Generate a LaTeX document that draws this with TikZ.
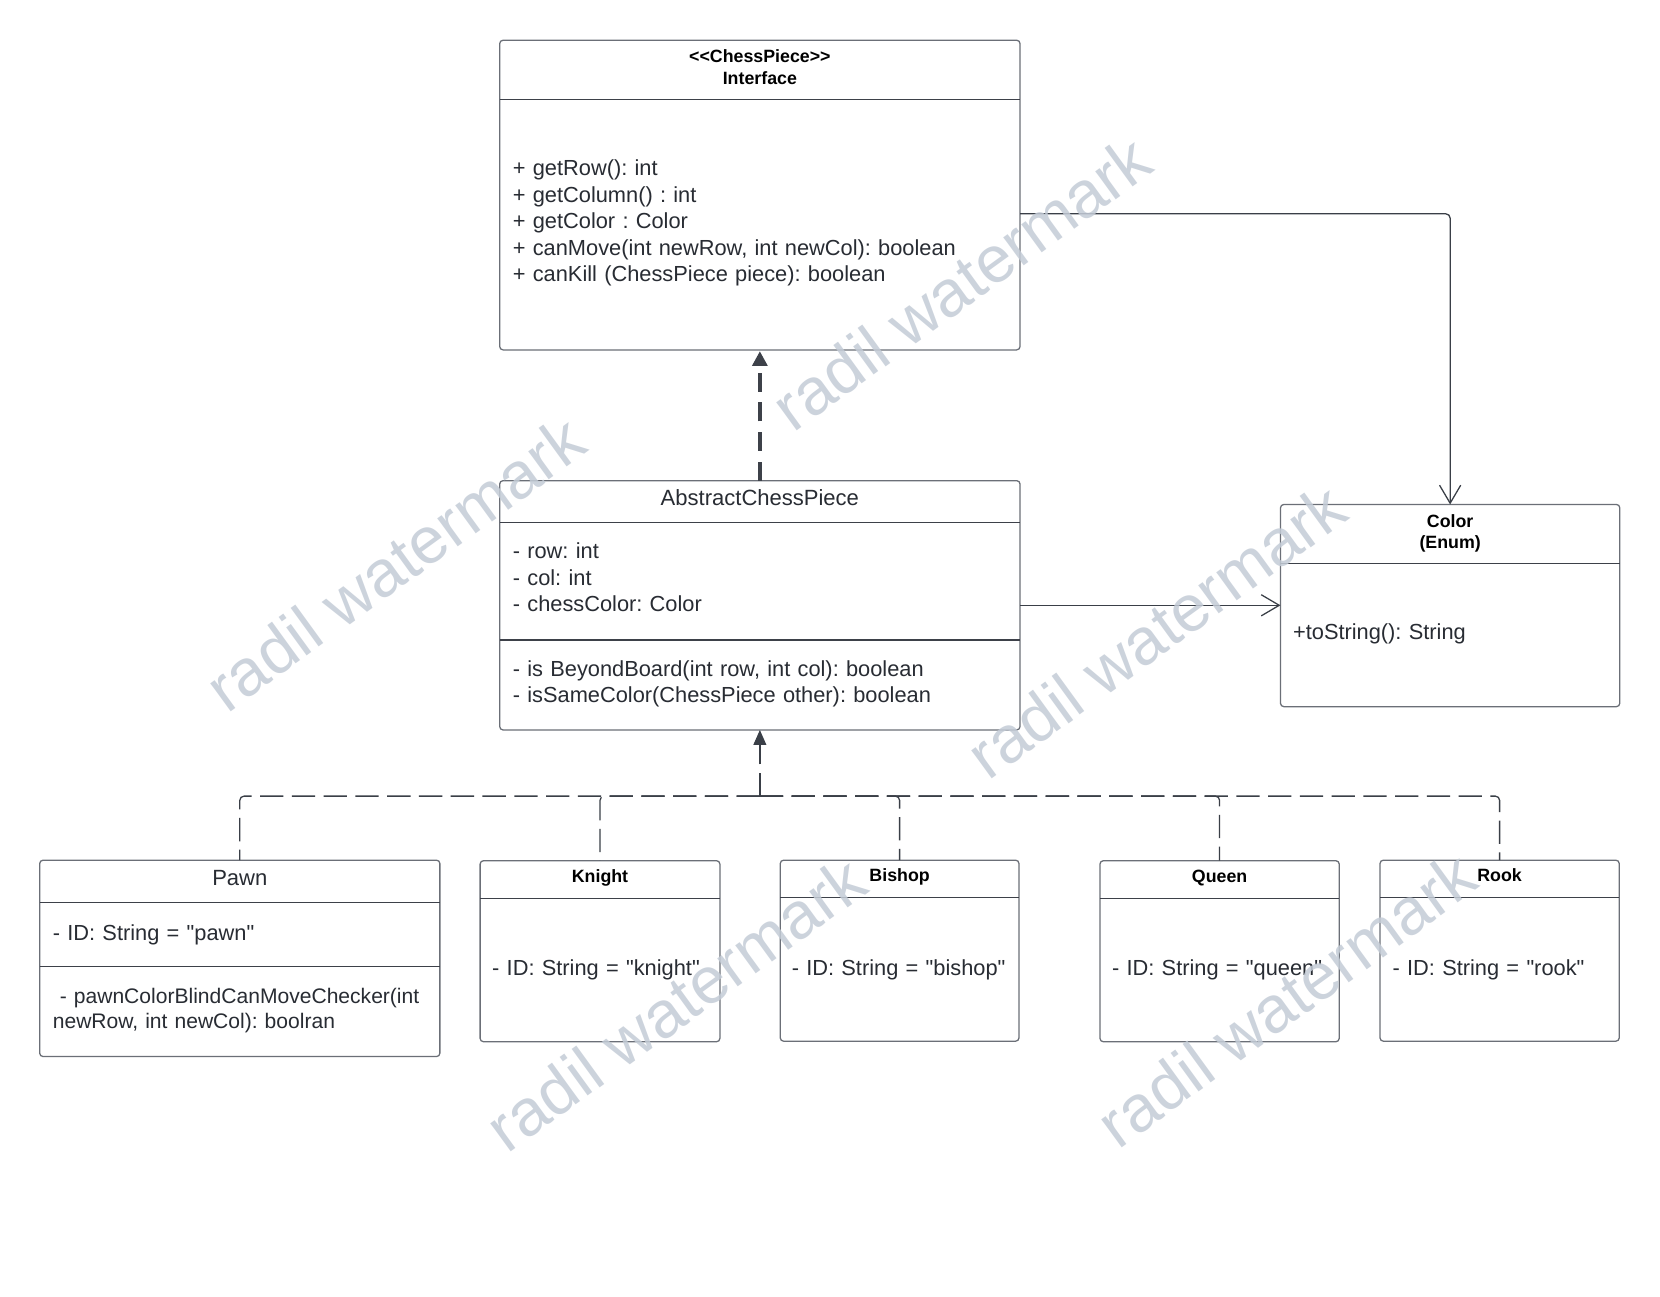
\documentclass[tikz,border=0pt]{standalone}
\usepackage{fontspec}
\newfontfamily\uifont{Liberation Sans}
\usetikzlibrary{arrows.meta}
\definecolor{ink}{HTML}{282C33}
\definecolor{edge}{HTML}{6B6F77}
\definecolor{rule}{HTML}{3D4149}
\definecolor{link}{HTML}{3A3F47}
\definecolor{wmark}{HTML}{C4CCD7}
\frenchspacing

\begin{document}
\begin{tikzpicture}[x=0.5pt,y=-0.5pt,
  classbox/.style={draw=edge, line width=0.6pt, rounded corners=1.6pt, inner sep=0pt, outer sep=0pt, fill=white},
  divider/.style={draw=rule, line width=0.5pt},
  members/.style={anchor=base west, inner sep=0pt, text width=320pt, align=left, text=ink,
    font=\uifont\frenchspacing\fontsize{10.3}{12.5}\selectfont},
  heading/.style={anchor=base, inner sep=0pt, text width=200pt, align=center, text=black,
    font=\uifont\bfseries\fontsize{8.4}{10.2}\selectfont},
  plainhead/.style={anchor=base, inner sep=0pt, text=ink, font=\uifont\fontsize{10.4}{12.5}\selectfont},
  assoc/.style={draw=link, line width=0.6pt, rounded corners=2pt,
    -{Straight Barb[length=8.5pt,width=10pt,line width=0.6pt]}},
  realize/.style={draw=rule, line width=1.8pt, dash pattern=on 9pt off 5pt,
    -{Triangle[length=7pt,width=7pt]}},
  inh/.style={draw=link, line width=0.6pt, dash pattern=on 11pt off 4pt, rounded corners=2pt},
  inhtip/.style={inh, -{Triangle[length=7pt,width=6pt]}},
  watermark/.style={text=wmark, opacity=0.85, font=\uifont\fontsize{31}{31}\selectfont,
    rotate=36, inner sep=0pt}
]
% page
\fill[white] (0,0) rectangle (1568,1225);
\useasboundingbox (0,0) rectangle (1568,1225);

% ---------- interface ----------
\node[classbox, minimum width=245.75pt, minimum height=146.25pt] (iface) at (717.75,184.25) {};
\draw[divider] (iface.west |- 0,94) -- (iface.east |- 0,94);
\node[heading] (ifacetitle) at (717.75,59) {<{}<ChessPiece>{}>\\Interface};
\node[members] (ifaceops) at (484,166) {+ getRow(): int\\
+ getColumn() : int\\
+ getColor : Color\\
+ canMove(int newRow, int newCol): boolean\\
+ canKill (ChessPiece piece): boolean};

% ---------- abstract class ----------
\node[classbox, minimum width=245.75pt, minimum height=117.75pt] (abs) at (717.75,571.75) {};
\draw[divider] (abs.west |- 0,493.5) -- (abs.east |- 0,493.5);
\draw[divider] (abs.west |- 0,604.5) -- (abs.east |- 0,604.5);
\node[plainhead] (abstitle) at (717.75,477.5) {AbstractChessPiece};
\node[members] (absattr) at (484,528) {- row: int\\
- col: int\\
- chessColor: Color};
\node[members] (absops) at (484,639) {- is BeyondBoard(int row, int col): boolean\\
- isSameColor(ChessPiece other): boolean};

% ---------- enum ----------
\node[classbox, minimum width=160.25pt, minimum height=95.5pt] (color) at (1369.75,572) {};
\draw[divider] (color.west |- 0,532.5) -- (color.east |- 0,532.5);
\node[heading] (colortitle) at (1369.75,498) {Color\\(Enum)};
\node[members] (colorops) at (1221,604) {+toString(): String};

% ---------- pieces ----------
\node[classbox, minimum width=189pt, minimum height=92.75pt] (pawn) at (226.5,905.25) {};
\draw[divider] (pawn.west |- 0,852.5) -- (pawn.east |- 0,852.5);
\draw[divider] (pawn.west |- 0,913) -- (pawn.east |- 0,913);
\node[plainhead] (pawntitle) at (226.5,836.5) {Pawn};
\node[members] (pawnattr) at (49.5,888) {- ID: String = "pawn"};
\node[members, font=\uifont\frenchspacing\fontsize{9.95}{12}\selectfont] (pawnops) at (49.5,947.5)
  {~- pawnColorBlindCanMoveChecker(int\\newRow, int newCol): boolran};

\node[classbox, minimum width=113.25pt, minimum height=85.5pt] (knight) at (566.75,898.5) {};
\draw[divider] (knight.west |- 0,848.5) -- (knight.east |- 0,848.5);
\node[heading] (knighttitle) at (566.75,834) {Knight};
\node[members] (knightattr) at (464.5,921) {- ID: String = "knight"};

\node[classbox, minimum width=112.75pt, minimum height=85.5pt] (bishop) at (849.75,898) {};
\draw[divider] (bishop.west |- 0,847.5) -- (bishop.east |- 0,847.5);
\node[heading] (bishoptitle) at (849.75,833) {Bishop};
\node[members] (bishopattr) at (747.5,921) {- ID: String = "bishop"};

\node[classbox, minimum width=113pt, minimum height=85.5pt] (queen) at (1152,898.5) {};
\draw[divider] (queen.west |- 0,849) -- (queen.east |- 0,849);
\node[heading] (queentitle) at (1152,834) {Queen};
\node[members] (queenattr) at (1050,921) {- ID: String = "queen"};

\node[classbox, minimum width=113pt, minimum height=85.5pt] (rook) at (1416.5,898) {};
\draw[divider] (rook.west |- 0,847.5) -- (rook.east |- 0,847.5);
\node[heading] (rooktitle) at (1416.5,833) {Rook};
\node[members] (rookattr) at (1315,921) {- ID: String = "rook"};

% ---------- relations ----------
\draw[assoc] (iface.east |- 0,202) -| (color.north);
\draw[assoc] (abs.east) -- (abs.east -| color.west);
\draw[realize] (abs.north) -- ([yshift=-0.6pt]iface.south);

\coordinate (bus) at (717.75,752);
\draw[inh] (bus) -| (pawn.north);
\draw[inh] (bus) -| (knight.north);
\draw[inh] (bus) -| (bishop.north);
\draw[inh] (bus) -| (queen.north);
\draw[inh] (bus) -| (rook.north);
\draw[inhtip] (bus) -- (abs.south);

% ---------- watermark ----------
\node[watermark] (wm1) at (373,532) {radil watermark};
\node[watermark] (wm2) at (908,267) {radil watermark};
\node[watermark] (wm3) at (1092,596) {radil watermark};
\node[watermark] (wm4) at (638,948) {radil watermark};
\node[watermark] (wm5) at (1215,944) {radil watermark};
\end{tikzpicture}
\end{document}
